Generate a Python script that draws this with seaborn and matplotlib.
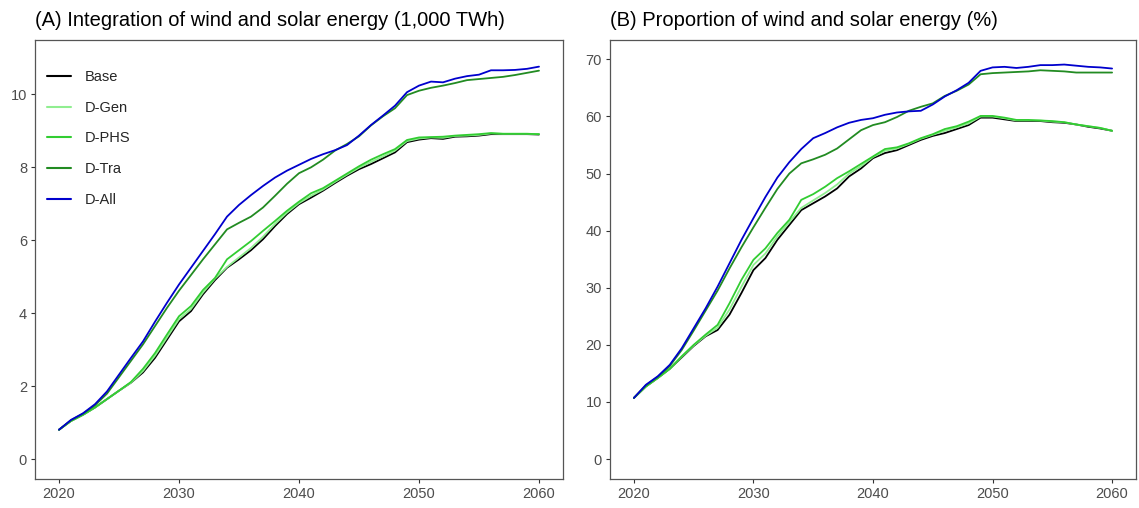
import numpy as np
import pandas as pd
import seaborn as sns
import matplotlib
matplotlib.use("Agg")
import matplotlib.pyplot as plt

years = list(range(2020, 2061))
scenarios = ["Base", "D-Gen", "D-PHS", "D-Tra", "D-All"]
colors = ["#000000", "#90EE90", "#32CD32", "#228B22", "#0000CD"]

# (A) integration of wind and solar energy, 1,000 TWh
energy_base = [0.81, 1.05, 1.22, 1.42, 1.65, 1.88, 2.10, 2.38, 2.78, 3.28, 3.78, 4.06, 4.52, 4.91,
               5.25, 5.48, 5.73, 6.03, 6.39, 6.72, 6.99, 7.17, 7.36, 7.57, 7.77, 7.95, 8.09, 8.25,
               8.41, 8.69, 8.76, 8.80, 8.78, 8.84, 8.85, 8.87, 8.91, 8.91, 8.91, 8.91, 8.90]
energy_gen = [0.81, 1.05, 1.22, 1.42, 1.65, 1.88, 2.10, 2.42, 2.84, 3.34, 3.84, 4.12, 4.57, 4.95,
              5.27, 5.53, 5.79, 6.10, 6.45, 6.76, 7.02, 7.22, 7.39, 7.60, 7.80, 7.99, 8.15, 8.30,
              8.46, 8.72, 8.79, 8.82, 8.81, 8.86, 8.87, 8.89, 8.93, 8.92, 8.92, 8.92, 8.91]
energy_phs = [0.81, 1.05, 1.22, 1.42, 1.65, 1.88, 2.12, 2.48, 2.91, 3.42, 3.92, 4.20, 4.64, 4.97,
              5.48, 5.73, 5.98, 6.26, 6.53, 6.81, 7.06, 7.29, 7.43, 7.63, 7.83, 8.03, 8.21, 8.36,
              8.50, 8.75, 8.82, 8.83, 8.84, 8.87, 8.89, 8.91, 8.94, 8.92, 8.92, 8.92, 8.91]
energy_tra = [0.81, 1.07, 1.25, 1.48, 1.80, 2.25, 2.70, 3.15, 3.65, 4.15, 4.62, 5.05, 5.48, 5.89,
              6.30, 6.48, 6.65, 6.90, 7.22, 7.55, 7.84, 8.00, 8.21, 8.46, 8.64, 8.85, 9.15, 9.40,
              9.62, 9.98, 10.10, 10.18, 10.24, 10.31, 10.39, 10.42, 10.45, 10.48, 10.53, 10.59, 10.65]
energy_all = [0.81, 1.08, 1.26, 1.51, 1.86, 2.32, 2.78, 3.23, 3.77, 4.29, 4.79, 5.25, 5.71, 6.17,
              6.65, 6.97, 7.24, 7.49, 7.72, 7.91, 8.07, 8.23, 8.36, 8.47, 8.61, 8.87, 9.16, 9.42,
              9.69, 10.06, 10.24, 10.35, 10.33, 10.43, 10.50, 10.54, 10.66, 10.66, 10.67, 10.70, 10.76]

# (B) proportion of wind and solar energy, %
share_base = [10.7, 12.7, 14.2, 15.8, 17.8, 19.8, 21.5, 22.6, 25.3, 29.1, 33.1, 35.2, 38.4, 41.0,
              43.6, 44.8, 46.0, 47.4, 49.5, 50.9, 52.7, 53.6, 54.1, 55.0, 55.9, 56.6, 57.1, 57.8,
              58.5, 59.8, 59.8, 59.5, 59.2, 59.2, 59.2, 59.0, 58.9, 58.6, 58.2, 57.9, 57.5]
share_gen = [10.7, 12.7, 14.2, 15.8, 17.9, 19.9, 21.6, 23.0, 26.2, 30.2, 34.0, 36.0, 39.0, 41.5,
             44.0, 45.3, 46.6, 48.1, 50.0, 51.3, 52.9, 54.0, 54.4, 55.2, 56.1, 56.8, 57.5, 58.1,
             58.8, 60.0, 60.0, 59.7, 59.3, 59.3, 59.3, 59.1, 59.0, 58.6, 58.3, 58.0, 57.5]
share_phs = [10.7, 12.7, 14.2, 15.8, 18.0, 20.0, 21.8, 23.5, 27.3, 31.4, 34.9, 36.9, 39.6, 41.9,
             45.4, 46.4, 47.7, 49.2, 50.4, 51.7, 53.0, 54.3, 54.6, 55.3, 56.2, 56.9, 57.8, 58.3,
             59.1, 60.1, 60.1, 59.8, 59.4, 59.4, 59.3, 59.2, 59.0, 58.6, 58.3, 58.0, 57.5]
share_tra = [10.7, 12.9, 14.4, 16.3, 19.1, 22.5, 26.0, 29.5, 33.4, 37.1, 40.6, 44.0, 47.3, 50.0,
             51.8, 52.5, 53.3, 54.4, 56.0, 57.6, 58.5, 59.0, 59.9, 61.0, 61.7, 62.3, 63.6, 64.5,
             65.6, 67.4, 67.6, 67.7, 67.8, 67.9, 68.1, 68.0, 67.9, 67.7, 67.7, 67.7, 67.7]
share_all = [10.7, 13.0, 14.5, 16.5, 19.4, 22.9, 26.4, 30.2, 34.3, 38.4, 42.2, 45.9, 49.3, 52.0,
             54.3, 56.2, 57.1, 58.1, 58.9, 59.4, 59.7, 60.3, 60.7, 60.9, 61.0, 62.1, 63.5, 64.6,
             65.9, 68.0, 68.6, 68.7, 68.5, 68.7, 69.0, 69.0, 69.1, 68.9, 68.7, 68.6, 68.4]

titles = ["(A) Integration of wind and solar energy (1,000 TWh)",
          "(B) Proportion of wind and solar energy (%)"]
x_ticks = [2020, 2030, 2040, 2050, 2060]
y_ticks_a = [0, 2, 4, 6, 8, 10]
y_ticks_b = [0, 10, 20, 30, 40, 50, 60, 70]


def long_frame(series):
    rows = []
    for name, vals in zip(scenarios, series):
        for yr, v in zip(years, vals):
            rows.append({"year": yr, "value": v, "scenario": name})
    return pd.DataFrame(rows)


df_a = long_frame([energy_base, energy_gen, energy_phs, energy_tra, energy_all])
df_b = long_frame([share_base, share_gen, share_phs, share_tra, share_all])

sns.set_theme(style="white")
plt.rcParams["font.family"] = ["Liberation Sans", "DejaVu Sans"]

W, H = 1139, 508
fig = plt.figure(figsize=(W / 100, H / 100), dpi=100)
ax_a = fig.add_axes([35 / W, 29 / H, 528 / W, 439 / H])
ax_b = fig.add_axes([610 / W, 29 / H, 526 / W, 439 / H])

palette = dict(zip(scenarios, colors))

for ax, df, yl, yt, title, x0 in [
    (ax_a, df_a, (-0.54, 11.49), y_ticks_a, titles[0], 35),
    (ax_b, df_b, (-3.5, 73.4), y_ticks_b, titles[1], 610),
]:
    sns.lineplot(data=df, x="year", y="value", hue="scenario", hue_order=scenarios,
                 palette=palette, estimator=None, sort=False, linewidth=1.3, ax=ax,
                 legend=(ax is ax_a))
    ax.set_xlim(2018, 2062)
    ax.set_ylim(*yl)
    ax.set_xticks(x_ticks)
    ax.set_yticks(yt)
    ax.set_xlabel("")
    ax.set_ylabel("")
    ax.tick_params(axis="both", which="both", direction="out", length=3.2, width=0.8,
                   color="#333333", labelsize=10.5, labelcolor="#4D4D4D", pad=2.5,
                   bottom=True, left=True)
    for sp in ax.spines.values():
        sp.set_color("#555555")
        sp.set_linewidth(0.9)
    ax.grid(False)
    fig.text(x0 / W, 1 - 20 / H, title, fontsize=14.5, ha="left", va="center", color="black")

leg = ax_a.legend(loc="upper left", bbox_to_anchor=(0.022, 0.932), frameon=False,
                  fontsize=10.5, handlelength=1.65, handletextpad=0.95, labelspacing=1.15,
                  borderpad=0, borderaxespad=0, title=None)
for line in leg.get_lines():
    line.set_linewidth(1.5)

fig.savefig("out.png", dpi=100)
